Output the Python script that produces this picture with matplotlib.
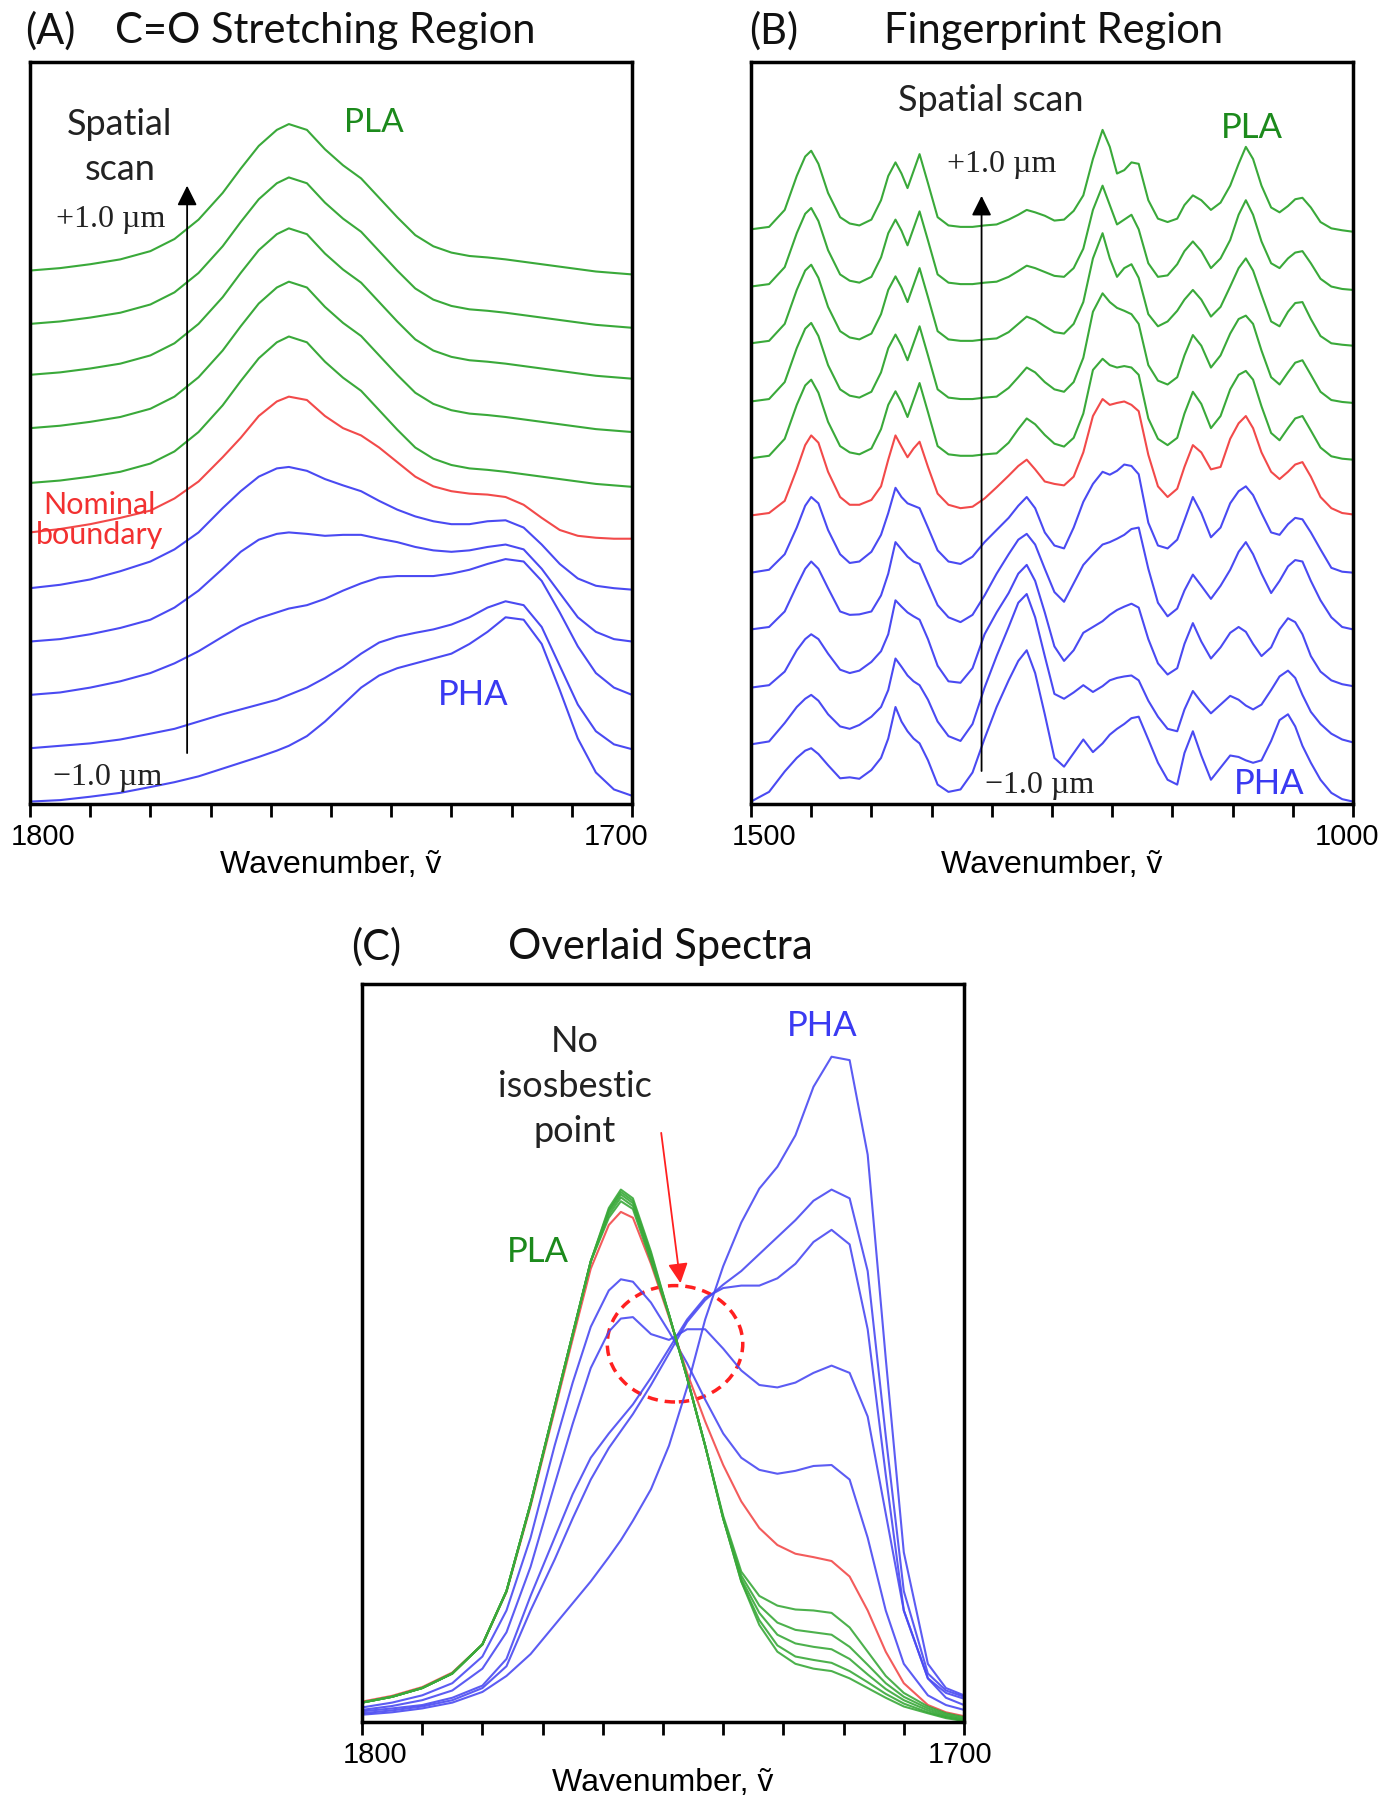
import numpy as np
import matplotlib.pyplot as plt
from matplotlib.patches import Ellipse
from matplotlib.transforms import ScaledTranslation

# ---------------- dados (unidades arbitrarias) ----------------
# (A) regiao C=O, espectros empilhados
wn_a = [1800, 1795, 1790, 1785, 1780, 1776, 1772, 1768, 1765, 1762, 1759, 1757, 1754, 1751,
        1748, 1745, 1742, 1739, 1736, 1733, 1730, 1727, 1724, 1721, 1718, 1715, 1712, 1709,
        1706, 1703, 1700]
pla_a = [110.0, 110.5, 111.3, 112.3, 114.0, 116.5, 120.5, 126.0, 131.0, 135.7, 139.0, 140.2,
         139.0, 135.0, 131.7, 129.0, 125.0, 121.0, 117.3, 115.0, 113.7, 113.0, 112.7, 112.3,
         111.8, 111.3, 110.8, 110.3, 109.8, 109.5, 109.2]
pla_a_shift = [0, -11.0, -21.5, -32.5, -43.8]
bnd_a = [56.0, 56.7, 57.7, 59.0, 60.5, 63.0, 66.5, 71.5, 75.5, 80.0, 83.0, 84.0, 83.3, 80.0,
         77.5, 76.0, 73.5, 70.5, 67.5, 65.5, 64.5, 64.0, 63.8, 63.3, 61.7, 59.0, 56.5, 55.3,
         54.9, 54.7, 54.7]
pha_a1 = [44.5, 45.2, 46.3, 48.0, 50.0, 52.5, 56.0, 61.0, 64.5, 67.5, 69.2, 69.5, 68.7, 67.0,
          65.7, 64.5, 62.5, 60.7, 59.3, 58.3, 57.7, 57.7, 58.3, 58.5, 57.0, 53.5, 49.5, 46.5,
          45.0, 44.5, 44.2]
pha_a2 = [33.5, 34.0, 35.0, 36.3, 38.0, 40.5, 44.0, 48.5, 52.0, 54.5, 55.7, 56.0, 55.7, 55.3,
          55.5, 55.5, 54.7, 54.0, 53.0, 52.3, 52.0, 52.3, 53.0, 53.5, 52.5, 48.5, 43.5, 38.5,
          35.5, 34.0, 33.5]
pha_a3 = [22.5, 23.0, 24.0, 25.3, 27.0, 29.0, 31.5, 34.5, 36.7, 38.3, 39.5, 40.3, 41.0, 42.3,
          44.0, 45.5, 46.7, 47.0, 47.0, 47.0, 47.5, 48.3, 49.5, 50.5, 50.0, 46.0, 39.5, 32.5,
          27.0, 24.0, 22.5]
pha_a4 = [11.5, 12.0, 12.5, 13.3, 14.5, 15.5, 17.0, 18.5, 19.5, 20.5, 21.5, 22.5, 24.0, 26.0,
          28.3, 31.0, 33.3, 34.5, 35.3, 36.0, 37.0, 38.5, 40.5, 41.8, 41.0, 36.5, 28.5, 20.5,
          15.0, 12.3, 11.3]
pha_a5 = [0.5, 0.8, 1.5, 2.3, 3.5, 4.5, 5.7, 7.3, 8.5, 9.7, 11.0, 12.0, 14.0, 17.0, 20.5, 24.0,
          26.5, 28.0, 29.0, 30.0, 31.0, 33.0, 35.5, 38.5, 38.0, 33.0, 23.5, 13.5, 6.5, 3.0, 1.7]

# (B) impressao digital: altura acima da linha de base de cada espectro + deslocamentos
wn_b = [1500, 1485, 1472, 1462, 1455, 1450, 1444, 1436, 1426, 1418, 1410, 1400, 1392, 1386,
        1380, 1375, 1370, 1365, 1360, 1353, 1345, 1336, 1326, 1316, 1306, 1296, 1286, 1278,
        1271, 1264, 1256, 1248, 1240, 1232, 1224, 1216, 1208, 1202, 1196, 1190, 1184, 1178,
        1170, 1162, 1154, 1146, 1140, 1133, 1126, 1118, 1110, 1102, 1095, 1089, 1083, 1076,
        1068, 1061, 1054, 1048, 1042, 1035, 1027, 1018, 1009, 1000]
fp_left = [0, 0.5, 4.0, 11.0, 15.0, 16.2, 13.5, 7.5, 2.5, 1.2, 0.8, 2.0, 6.0, 11.0, 13.8, 11.5,
           8.5, 12.0, 15.5, 9.5, 2.5, 0.8, 0.5, 0.5, 0.8, 1.0]
fp_pla1 = fp_left + [2.0, 3.0, 4.0, 3.5, 2.8, 1.8,
                     2.0, 3.8, 7.0, 14.5, 20.5, 17.0, 11.5, 12.2, 13.8, 13.5, 6.0, 2.2, 1.5, 2.2,
                     5.0, 7.0, 6.0, 4.0, 5.5, 9.0, 13.5, 17.0, 14.5, 9.0, 4.5, 3.5, 4.8, 6.2,
                     6.5, 4.5, 1.5, 0.2, -0.2, -0.5]
fp_pla2 = fp_left + [2.0, 3.2, 4.3, 3.8, 3.0, 2.2,
                     2.0, 3.8, 7.8, 15.8, 20.8, 16.8, 12.8, 13.8, 14.8, 11.8, 4.8, 2.0, 2.3, 4.6,
                     7.3, 9.3, 7.3, 3.8, 5.8, 9.6, 14.8, 17.8, 14.8, 9.3, 4.8, 3.8, 5.8, 7.0,
                     7.3, 4.8, 1.6, 0, -0.5, -0.7]
fp_pla3 = fp_left + [2.3, 4.0, 5.5, 4.8, 3.5, 2.3,
                     2.0, 4.0, 8.5, 17.5, 22.7, 17.5, 13.7, 15.5, 16.3, 13.5, 6.0, 3.5, 4.5, 6.7,
                     9.0, 11.0, 9.0, 5.5, 7.5, 11.7, 15.5, 17.5, 15.0, 10.0, 4.5, 3.5, 6.5, 8.3,
                     8.5, 5.0, 1.5, 0, -0.3, -0.5]
fp_pla4 = fp_left + [2.8, 5.0, 7.0, 6.0, 4.0, 2.5,
                     2.0, 4.0, 9.0, 18.5, 22.3, 20.5, 19.3, 18.7, 18.0, 16.0, 7.5, 4.3, 3.5, 5.0,
                     9.5, 13.7, 11.5, 7.0, 9.5, 14.0, 17.0, 17.7, 16.0, 10.5, 5.0, 3.5, 6.0, 8.0,
                     8.5, 5.5, 2.0, 0.3, -0.1, -0.3]
fp_pla5 = fp_left + [3.2, 6.0, 8.2, 7.0, 4.8, 3.0,
                     2.4, 4.2, 9.2, 18.2, 20.5, 19.2, 18.7, 19.0, 18.7, 17.2, 8.2, 4.0, 2.7, 4.2,
                     9.2, 13.7, 11.2, 6.2, 8.7, 14.2, 17.2, 18.0, 16.2, 10.7, 5.2, 3.7, 6.2, 8.2,
                     8.7, 5.7, 2.2, 0.4, -0.1, -0.3]
fp_bnd = [0, 0.5, 3.0, 9.5, 14.5, 16.5, 15.0, 9.0, 3.8, 2.2, 2.2, 3.2, 6.0, 11.5, 16.5, 14.2,
          12.0, 13.8, 15.2, 10.0, 4.5, 2.2, 1.5, 1.8, 3.5, 5.8, 8.2, 10.2, 11.5, 9.5, 7.0, 6.5,
          6.2, 8.0, 13.0, 20.5, 24.0, 22.8, 23.2, 23.5, 22.8, 21.5, 12.5, 6.0, 3.8, 5.5, 10.0,
          14.5, 13.0, 9.5, 10.0, 15.8, 19.0, 20.5, 18.0, 13.0, 9.0, 7.5, 9.0, 10.5, 11.0, 8.0,
          3.8, 1.5, 0.5, 0.2]
fp_pha1 = [0, 0.6, 3.8, 9.3, 13.8, 15.6, 14.3, 8.8, 3.8, 2.0, 2.3, 4.3, 7.8, 12.3, 17.5, 15.6,
           14.3, 13.8, 13.3, 9.3, 4.6, 2.3, 1.8, 3.3, 6.3, 8.8, 11.3, 13.8, 15.6, 13.3, 8.3,
           5.6, 5.0, 9.3, 14.6, 18.3, 20.8, 20.2, 21.0, 22.3, 22.0, 20.3, 10.3, 5.6, 5.0, 6.8,
           10.8, 15.6, 12.3, 7.3, 9.3, 14.3, 16.8, 17.8, 16.0, 12.3, 8.3, 7.8, 10.0, 11.3, 11.0,
           8.3, 4.8, 1.0, 0.2, 0]
fp_pha2 = [0, 0.5, 3.7, 9.0, 12.5, 14.0, 12.5, 8.5, 3.7, 3.0, 3.1, 3.7, 7.0, 11.5, 18.0, 16.5,
           15.0, 14.0, 13.5, 9.5, 5.0, 2.5, 1.5, 3.0, 7.0, 11.5, 15.5, 18.5, 19.7, 17.5, 12.5,
           7.7, 5.7, 9.5, 13.3, 15.5, 17.5, 18.0, 18.7, 19.5, 20.7, 21.0, 12.5, 5.5, 2.7, 4.3,
           8.0, 11.3, 9.0, 6.3, 9.0, 12.3, 16.0, 18.0, 15.5, 11.5, 7.5, 10.0, 13.0, 14.3, 14.0,
           10.0, 6.0, 2.5, 0.5, 0]
fp_pha3 = [0, 0.5, 3.3, 7.7, 10.0, 11.0, 10.0, 7.0, 3.7, 3.0, 3.5, 5.3, 7.5, 11.0, 18.0, 16.7,
           15.5, 14.7, 14.0, 10.0, 4.5, 1.3, 1.0, 4.0, 11.0, 15.5, 19.5, 23.5, 25.3, 22.0, 15.5,
           8.5, 5.5, 7.7, 11.3, 12.5, 13.7, 15.0, 16.0, 16.7, 17.3, 16.5, 10.0, 5.0, 2.7, 4.0,
           9.0, 13.3, 9.5, 6.0, 8.3, 11.3, 12.5, 11.5, 9.0, 6.5, 8.3, 12.0, 14.3, 13.5, 11.0,
           6.5, 3.3, 1.5, 0.7, 0.3]
fp_pha4 = [0, 0.6, 4.4, 7.7, 9.4, 10.2, 9.0, 6.2, 3.7, 3.2, 4.0, 5.7, 7.7, 11.2, 17.7, 16.0,
           14.2, 13.0, 12.2, 9.2, 4.7, 1.7, 0.7, 4.2, 11.7, 18.2, 24.2, 29.2, 31.0, 26.2, 18.2,
           10.4, 9.4, 10.7, 12.2, 10.8, 12.0, 13.2, 13.7, 14.0, 14.2, 13.2, 9.0, 5.7, 3.2, 2.7,
           7.2, 11.0, 8.7, 6.4, 8.2, 10.0, 9.2, 8.0, 7.2, 8.2, 11.2, 14.0, 15.2, 13.7, 10.2,
           6.7, 4.2, 2.2, 1.0, 0.4]
fp_pha5 = [0, 2.0, 6.2, 9.0, 10.5, 11.0, 9.8, 7.5, 4.8, 5.0, 4.7, 6.5, 9.0, 13.0, 19.5, 16.5,
           14.5, 13.0, 12.0, 8.5, 3.5, 2.0, 2.5, 6.0, 13.0, 19.5, 25.0, 29.0, 31.2, 26.5, 18.0,
           9.0, 7.2, 10.0, 12.8, 10.2, 12.0, 13.8, 15.0, 16.0, 17.2, 17.5, 12.8, 8.0, 4.5, 3.5,
           10.0, 14.5, 9.5, 4.5, 7.0, 9.5, 9.2, 8.5, 8.0, 8.5, 12.5, 16.8, 18.0, 15.5, 11.5,
           8.0, 4.5, 1.8, 0.5, 0]
fp_shift = [118.5, 106.7, 95.0, 83.0, 71.3, 59.5, 47.7, 36.0, 24.0, 12.3, 0.5]

# (C) espectros sobrepostos
wn_c = [1800, 1795, 1790, 1785, 1780, 1776, 1772, 1768, 1765, 1762, 1759, 1757, 1755, 1752,
        1749, 1746, 1743, 1740, 1737, 1734, 1731, 1728, 1725, 1722, 1719, 1716, 1713, 1710,
        1706, 1703, 1700]
ov_pla1 = [4.0, 5.2, 7.0, 10.0, 16.0, 27.0, 45.0, 65.0, 80.0, 95.0, 106.0, 109.8, 108.0, 97.0,
           84.0, 71.0, 57.0, 42.0, 29.0, 20.0, 14.5, 12.0, 11.0, 10.5, 9.0, 7.0, 5.0, 3.2, 1.8,
           0.8, 0.2]
ov_pla2 = [4.0, 5.2, 7.0, 10.0, 16.0, 27.0, 45.0, 65.0, 80.0, 95.0, 105.6, 109.3, 107.5, 96.5,
           84.0, 71.0, 57.0, 42.0, 29.0, 21.0, 15.8, 13.5, 12.8, 12.2, 10.5, 8.2, 5.8, 3.8, 2.0,
           1.0, 0.3]
ov_pla3 = [4.0, 5.2, 7.0, 10.0, 16.0, 27.0, 45.0, 65.0, 80.0, 95.0, 105.2, 108.8, 107.0, 96.0,
           84.0, 71.0, 57.0, 42.0, 29.5, 22.5, 18.0, 16.2, 15.5, 15.0, 13.0, 9.8, 6.8, 4.5, 2.4,
           1.2, 0.5]
ov_pla4 = [4.0, 5.2, 7.0, 10.0, 16.0, 27.0, 45.0, 65.0, 80.0, 95.0, 104.6, 108.2, 106.4, 95.5,
           84.0, 71.0, 57.0, 42.0, 30.2, 24.0, 20.5, 19.0, 18.5, 18.0, 15.5, 11.8, 8.0, 5.2, 2.8,
           1.5, 0.7]
ov_pla5 = [4.0, 5.2, 7.0, 10.0, 16.0, 27.0, 45.0, 65.0, 80.0, 95.0, 104.0, 107.4, 105.8, 95.0,
           84.0, 71.0, 57.0, 42.5, 31.0, 26.0, 24.0, 23.2, 23.0, 22.5, 19.5, 14.5, 9.5, 6.0, 3.2,
           1.8, 1.0]
ov_bnd = [4.2, 5.4, 7.2, 10.2, 16.0, 26.8, 44.5, 64.2, 79.0, 93.5, 102.5, 105.2, 104.0, 94.5,
          83.5, 72.0, 62.0, 53.0, 45.5, 40.0, 36.5, 34.7, 34.0, 33.2, 30.0, 23.0, 14.5, 8.0, 3.5,
          2.0, 1.2]
ov_pha1 = [3.0, 4.0, 5.5, 8.0, 13.5, 23.0, 38.0, 57.0, 70.0, 81.5, 89.0, 91.3, 90.8, 86.5,
           80.5, 74.0, 66.5, 59.5, 54.5, 52.0, 51.2, 51.8, 52.8, 53.0, 50.0, 38.0, 23.0, 12.0,
           5.5, 3.5, 2.5]
ov_pha2 = [2.5, 3.3, 4.5, 6.5, 11.0, 18.5, 32.0, 49.0, 61.5, 73.0, 80.5, 83.2, 83.5, 80.0,
           78.8, 81.0, 81.0, 77.0, 72.5, 69.5, 69.0, 70.0, 72.0, 73.5, 72.0, 63.0, 43.0, 23.0,
           9.0, 5.0, 3.5]
ov_pha3 = [2.2, 2.8, 3.5, 5.0, 7.5, 13.0, 26.0, 38.0, 47.0, 54.5, 59.5, 62.5, 65.5, 71.0,
           77.0, 83.0, 87.5, 89.5, 90.0, 90.0, 91.5, 94.5, 99.0, 101.5, 98.5, 81.0, 51.0, 23.0,
           9.0, 6.0, 4.8]
ov_pha4 = [1.8, 2.4, 3.2, 4.5, 7.0, 11.5, 23.0, 33.5, 42.0, 50.0, 56.5, 60.0, 63.5, 69.5,
           76.0, 82.5, 87.0, 90.2, 93.0, 96.5, 100.0, 103.5, 107.5, 109.8, 108.0, 93.0, 59.0,
           27.0, 10.0, 6.5, 5.2]
ov_pha5 = [1.5, 2.0, 2.8, 4.0, 6.2, 9.5, 14.0, 20.0, 24.5, 29.0, 34.0, 37.5, 41.5, 48.0, 57.0,
           69.0, 83.0, 94.0, 103.0, 110.0, 114.5, 121.0, 131.0, 137.2, 136.5, 117.0, 75.0, 35.0,
           12.0, 7.0, 5.5]

# ---------------- estilo ----------------
GREEN, RED, BLUE = "#3aa93a", "#f24a4a", "#4a4af2"
GREEN_TXT, RED_TXT, BLUE_TXT = "#1c8a1c", "#f23030", "#3a3af2"
SANS = ["Lato", "DejaVu Sans"]
TICKF = ["Liberation Sans", "DejaVu Sans"]
SERIF = ["Liberation Serif", "DejaVu Serif"]
plt.rcParams["font.family"] = SANS
plt.rcParams["lines.solid_joinstyle"] = "round"

W, H = 1382, 1800
fig = plt.figure(figsize=(W / 100, H / 100), dpi=100)


def rect(left, right, top, bottom):
    return [left / W, 1 - bottom / H, (right - left) / W, (bottom - top) / H]


def style(ax, lo, hi, step, ytop, shift_hi=-4):
    ax.set_xlim(lo, hi)
    ax.set_ylim(0, ytop)
    ticks = list(range(hi, lo + 1, step))
    ax.set_xticks(ticks)
    ax.set_xticklabels([str(t) if t in (lo, hi) else "" for t in ticks],
                       family=TICKF, fontsize=21)
    ax.set_yticks([])
    ax.tick_params(axis="x", direction="out", length=9, width=2, pad=5)
    for s in ax.spines.values():
        s.set_linewidth(2.5)
    ax.set_xlabel("Wavenumber, \u1e7d", family=TICKF, fontsize=23, labelpad=-1)
    # rotulos das extremidades ligeiramente para dentro, como no original
    for t, lab in zip(ticks, ax.get_xticklabels()):
        if t == lo:
            dx = 13
        elif t == hi:
            dx = shift_hi
        else:
            continue
        lab.set_transform(lab.get_transform() +
                          ScaledTranslation(dx / 100, 0, fig.dpi_scale_trans))


def arrow(ax, x0, y0, x1, y1, color="black"):
    ax.annotate("", xy=(x1, y1), xytext=(x0, y0),
                arrowprops=dict(arrowstyle="-|>,head_length=0.6,head_width=0.3",
                                mutation_scale=20, lw=1.3, color=color,
                                shrinkA=0, shrinkB=0))


LW = 1.5

# ---------------- (A) ----------------
axA = fig.add_axes(rect(30, 632, 62, 804))
for d in pla_a_shift:
    axA.plot(wn_a, np.array(pla_a) + d, color=GREEN, lw=LW)
axA.plot(wn_a, bnd_a, color=RED, lw=LW)
for s in (pha_a1, pha_a2, pha_a3, pha_a4, pha_a5):
    axA.plot(wn_a, s, color=BLUE, lw=LW)
style(axA, 1800, 1700, 10, 153, shift_hi=-16)
axA.text(1785.1, 135.5, "Spatial\nscan", ha="center", va="center", fontsize=26,
         linespacing=1.45, color="#222222")
axA.text(1786.6, 120.5, "+1.0 \u00b5m", ha="center", va="center", family=SERIF,
         fontsize=23, color="#222222")
axA.text(1787.1, 5.5, "\u22121.0 \u00b5m", ha="center", va="center", family=SERIF,
         fontsize=23, color="#222222")
axA.text(1742.8, 140.5, "PLA", ha="center", va="center", fontsize=24, color=GREEN_TXT)
axA.text(1788.4, 58.5, "Nominal\nboundary", ha="center", va="center", fontsize=22,
         linespacing=1.1, color=RED_TXT)
axA.text(1726.3, 22.5, "PHA", ha="center", va="center", fontsize=25, color=BLUE_TXT)
arrow(axA, 1773.9, 10.5, 1773.9, 127.5)

# ---------------- (B) ----------------
axB = fig.add_axes(rect(751, 1353, 62, 804))
fp_all = [(fp_pla1, GREEN), (fp_pla2, GREEN), (fp_pla3, GREEN), (fp_pla4, GREEN),
          (fp_pla5, GREEN), (fp_bnd, RED), (fp_pha1, BLUE), (fp_pha2, BLUE),
          (fp_pha3, BLUE), (fp_pha4, BLUE), (fp_pha5, BLUE)]
for (s, c), d in zip(fp_all, fp_shift):
    axB.plot(wn_b, np.array(s) + d, color=c, lw=LW)
style(axB, 1500, 1000, 50, 153, shift_hi=-6)
axB.text(1301, 145.0, "Spatial scan", ha="center", va="center", fontsize=26, color="#222222")
axB.text(1292, 131.8, "+1.0 \u00b5m", ha="center", va="center", family=SERIF,
         fontsize=23, color="#222222")
axB.text(1306, 3.8, "\u22121.0 \u00b5m", ha="left", va="center", family=SERIF,
         fontsize=23, color="#222222")
axB.text(1084, 139.4, "PLA", ha="center", va="center", fontsize=25, color=GREEN_TXT)
axB.text(1070, 4.2, "PHA", ha="center", va="center", fontsize=25, color=BLUE_TXT)
arrow(axB, 1308.5, 6.8, 1308.5, 125.4)

# ---------------- (C) ----------------
axC = fig.add_axes(rect(362, 964, 984, 1722))
for s in (ov_pha1, ov_pha2, ov_pha3, ov_pha4, ov_pha5):
    axC.plot(wn_c, s, color=BLUE, lw=1.5, alpha=0.9)
axC.plot(wn_c, ov_bnd, color=RED, lw=1.5, alpha=0.9)
for s in (ov_pla1, ov_pla2, ov_pla3, ov_pla4, ov_pla5):
    axC.plot(wn_c, s, color=GREEN, lw=1.5, alpha=0.9)
style(axC, 1800, 1700, 10, 152.2, shift_hi=-4)
axC.text(1764.6, 131.0, "No\nisosbestic\npoint", ha="center", va="center", fontsize=26,
         linespacing=1.45, color="#222222")
axC.text(1723.6, 143.5, "PHA", ha="center", va="center", fontsize=25, color=BLUE_TXT)
axC.text(1770.8, 97.0, "PLA", ha="center", va="center", fontsize=25, color=GREEN_TXT)
arrow(axC, 1750.3, 121.5, 1747.1, 90.5, color="#ff2020")
axC.add_patch(Ellipse((1748.0, 78.0), width=22.5, height=24.0, fill=False,
                      ec="#ff2020", lw=2.5, ls=(0, (3, 2))))


# ---------------- titulos ----------------
def title(x, y, s):
    fig.text(x / W, 1 - y / H, s, ha="left", va="center", fontsize=30, color="#111111")


title(25, 31, "(A)")
title(115, 31, "C=O Stretching Region")
title(749, 31, "(B)")
title(884, 31, "Fingerprint Region")
title(351, 947, "(C)")
title(508, 947, "Overlaid Spectra")

fig.savefig("out.png", dpi=100)
